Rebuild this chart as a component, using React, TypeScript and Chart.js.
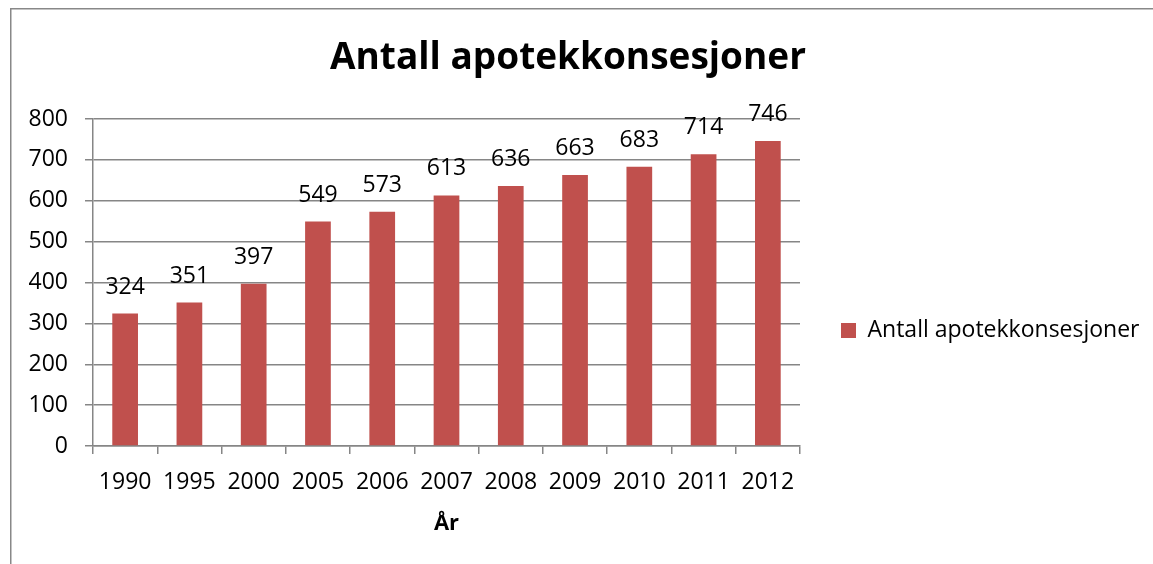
import React, { useEffect, useRef } from "react";
import { Chart, registerables } from "chart.js";

Chart.register(...registerables);

const categories: string[] = ["1990", "1995", "2000", "2005", "2006", "2007", "2008", "2009", "2010", "2011", "2012"];
const values: number[] = [324, 351, 397, 549, 573, 613, 636, 663, 683, 714, 746];
const seriesLabel = "Antall apotekkonsesjoner";
const chartTitle = "Antall apotekkonsesjoner";
const xAxisTitle = "År";
const yMin = 0;
const yMax = 800;
const yStep = 100;

const BAR_COLOR = "#C0504D";
const GRID_COLOR = "#868686";
const FONT = "'Open Sans', 'Liberation Sans', sans-serif";

const PAD_LEFT = -11;
const PAD_RIGHT = 6;

const frame = {
  id: "frame",
  beforeDraw(chart: any) {
    const { ctx } = chart;
    ctx.save();
    ctx.fillStyle = "#ffffff";
    ctx.fillRect(0, 0, chart.width, chart.height);
    ctx.strokeStyle = "#888888";
    ctx.lineWidth = 1.5;
    ctx.strokeRect(10.75, 8.75, 3000, 3000);
    ctx.restore();
  },
};

const dataLabels = {
  id: "dataLabels",
  afterDatasetsDraw(chart: any) {
    const { ctx } = chart;
    const meta = chart.getDatasetMeta(0);
    const ds = chart.data.datasets[0];
    ctx.save();
    ctx.font = `23px ${FONT}`;
    ctx.fillStyle = "#000000";
    ctx.textAlign = "center";
    ctx.textBaseline = "alphabetic";
    meta.data.forEach((bar: any, i: number) => {
      ctx.fillText(String(ds.data[i]), bar.x, bar.y - 20);
    });
    ctx.restore();
  },
};

export default function App() {
  const ref = useRef<HTMLCanvasElement | null>(null);
  useEffect(() => {
    if (!ref.current) return;
    Chart.defaults.font.family = FONT;
    const chart = new Chart(ref.current, {
      type: "bar",
      data: {
        labels: categories,
        datasets: [
          {
            label: seriesLabel,
            data: values,
            backgroundColor: BAR_COLOR,
            borderWidth: 0,
            barPercentage: 0.4,
            categoryPercentage: 1,
          },
        ],
      },
      options: {
        animation: false,
        responsive: false,
        layout: { padding: { left: PAD_LEFT, right: PAD_RIGHT, top: 0, bottom: 0 } },
        plugins: {
          title: {
            display: true,
            text: chartTitle,
            color: "#000000",
            font: { family: FONT, size: 37, weight: "bold" },
            padding: { top: 36.5, bottom: 38.1 },
          },
          legend: {
            display: true,
            position: "right",
            align: "center",
            maxWidth: 1153 - PAD_RIGHT - 800,
            title: {
              display: true,
              text: " ",
              font: { size: 10, lineHeight: 1 },
              padding: { top: 0, bottom: 87 },
            },
            labels: {
              color: "#000000",
              font: { family: FONT, size: 23 },
              boxWidth: 15,
              boxHeight: 15,
              padding: 41,
            },
          },
          tooltip: { enabled: false },
        },
        scales: {
          x: {
            afterFit: (scale: any) => {
              scale.height = 118;
            },
            grid: {
              display: true,
              drawOnChartArea: false,
              drawTicks: true,
              tickLength: 8,
              color: GRID_COLOR,
              lineWidth: 1.5,
              offset: true,
            },
            border: { display: true, color: GRID_COLOR, width: 1.5 },
            ticks: {
              color: "#000000",
              font: { family: FONT, size: 23 },
              padding: 15,
              maxRotation: 0,
              autoSkip: false,
            },
            title: {
              display: true,
              text: xAxisTitle,
              color: "#000000",
              font: { family: FONT, size: 22, weight: "bold" },
              padding: { top: 0, bottom: 27.5 },
            },
          },
          y: {
            min: yMin,
            max: yMax,
            afterFit: (scale: any) => {
              scale.width = 93 - PAD_LEFT;
            },
            grid: {
              color: GRID_COLOR,
              lineWidth: 1.5,
              drawTicks: true,
              tickLength: 8,
            },
            border: { display: true, color: GRID_COLOR, width: 1.5 },
            ticks: {
              stepSize: yStep,
              color: "#000000",
              font: { family: FONT, size: 23 },
              padding: 17,
            },
          },
        },
      },
      plugins: [frame, dataLabels],
    });
    return () => chart.destroy();
  }, []);
  return (
    <div style={{ position: "fixed", left: 0, top: 0, width: 1153, height: 564 }}>
      <canvas ref={ref} width={1153} height={564} style={{ display: "block" }} />
    </div>
  );
}
